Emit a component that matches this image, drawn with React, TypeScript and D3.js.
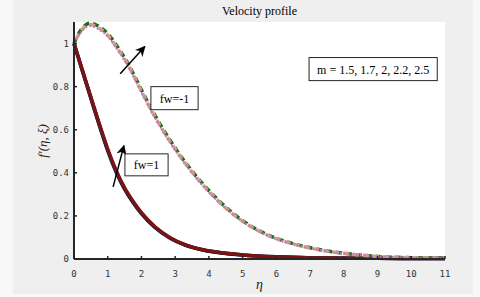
import React from "react";
import * as d3 from "d3";

const xTicks = [0, 1, 2, 3, 4, 5, 6, 7, 8, 9, 10, 11];
const yTicks = [0, 0.2, 0.4, 0.6, 0.8, 1];
const yTickLabels = ["0", "0.2", "0.4", "0.6", "0.8", "1"];

const etaSolid = [0, 0.25, 0.5, 0.75, 1, 1.25, 1.5, 1.75, 2, 2.4, 2.85, 3.3, 3.83, 4.4, 5, 6, 7, 8, 9, 10, 11];
const solidBlue = [1, 0.872, 0.745, 0.62, 0.502, 0.403, 0.324, 0.262, 0.21, 0.146, 0.096, 0.064, 0.042, 0.028, 0.018, 0.01, 0.006, 0.004, 0.003, 0.002, 0.002];
const solidBlack = [1, 0.874, 0.749, 0.624, 0.506, 0.407, 0.327, 0.265, 0.212, 0.148, 0.098, 0.065, 0.042, 0.028, 0.019, 0.01, 0.006, 0.004, 0.003, 0.002, 0.002];
const solidRed = [1, 0.876, 0.752, 0.628, 0.51, 0.41, 0.33, 0.268, 0.215, 0.15, 0.099, 0.066, 0.043, 0.029, 0.019, 0.01, 0.006, 0.004, 0.003, 0.002, 0.002];

const etaDash = [0, 0.15, 0.3, 0.47, 0.65, 0.85, 1.05, 1.3, 1.57, 1.9, 2.26, 2.55, 2.85, 3.2, 3.53, 3.9, 4.24, 4.69, 5.2, 5.9, 6.6, 7.3, 8.2, 9, 10, 11];
const dashGreen = [1, 1.05, 1.08, 1.094, 1.087, 1.067, 1.037, 0.982, 0.916, 0.816, 0.706, 0.626, 0.551, 0.47, 0.402, 0.334, 0.279, 0.215, 0.157, 0.102, 0.067, 0.043, 0.023, 0.012, 0.006, 0.003];
const dashTan = [1, 1.045, 1.075, 1.088, 1.08, 1.06, 1.03, 0.975, 0.91, 0.81, 0.7, 0.62, 0.545, 0.465, 0.398, 0.33, 0.275, 0.212, 0.155, 0.1, 0.066, 0.042, 0.023, 0.012, 0.006, 0.003];
const dashPink = [1, 1.04, 1.07, 1.082, 1.074, 1.054, 1.024, 0.969, 0.904, 0.805, 0.695, 0.615, 0.54, 0.461, 0.394, 0.327, 0.272, 0.21, 0.153, 0.099, 0.065, 0.041, 0.022, 0.012, 0.006, 0.003];

const W = 480, H = 297;
const x = d3.scaleLinear().domain([0, 11]).range([74, 445]);
const y = d3.scaleLinear().domain([0, 1.1]).range([259, 22]);

function path(xs: number[], ys: number[]) {
  const g = d3.line<number>().x((_, i) => x(xs[i])).y((d) => y(d)).curve(d3.curveMonotoneX);
  return g(ys) || "";
}

function Box({ x0, x1, y0, y1, text }: { x0: number; x1: number; y0: number; y1: number; text: string }) {
  const px0 = x(x0), px1 = x(x1), py0 = y(y0), py1 = y(y1);
  return (
    <g>
      <rect x={px0} y={py0} width={px1 - px0} height={py1 - py0} fill="#fff" stroke="#262626" strokeWidth={1} />
      <text x={(px0 + px1) / 2} y={(py0 + py1) / 2 + 4.5} textAnchor="middle" fontFamily="Liberation Serif" fontSize={12} fill="#000">{text}</text>
    </g>
  );
}

export default function App() {
  const arrows = [
    { x0: 1.37, y0: 0.86, x1: 2.1, y1: 0.986 },
    { x0: 1.16, y0: 0.335, x1: 1.48, y1: 0.526 },
  ];
  return (
    <svg width={W} height={H} style={{ position: "absolute", left: 0, top: 0 }}>
      <defs>
        <marker id="ah" viewBox="0 0 10 10" refX="9" refY="5" markerWidth="7" markerHeight="7" orient="auto">
          <path d="M0,0 L10,5 L0,10 L3,5 z" fill="#000" />
        </marker>
      </defs>
      <rect x={0} y={0} width={W} height={H} fill="#f8f8f8" />
      <rect x={13} y={0} width={460} height={294} fill="#efefef" />
      <rect x={x(0)} y={y(1.1)} width={x(11) - x(0)} height={y(0) - y(1.1)} fill="#fff" />
      <text x={(x(0) + x(11)) / 2} y={15} textAnchor="middle" fontFamily="Liberation Serif" fontSize={12} fill="#000">Velocity profile</text>

      {/* solid fw=1 */}
      <path d={path(etaSolid, solidBlue)} fill="none" stroke="#1f3fbf" strokeWidth={3.5} />
      <path d={path(etaSolid, solidBlack)} fill="none" stroke="#111" strokeWidth={3.5} />
      <path d={path(etaSolid, solidRed)} fill="none" stroke="#7a1414" strokeWidth={3.5} />

      {/* dashed fw=-1 */}
      <path d={path(etaDash, dashGreen)} fill="none" stroke="#1c6a1c" strokeWidth={3.5} strokeDasharray="6,4" />
      <path d={path(etaDash, dashTan)} fill="none" stroke="#d6a07c" strokeWidth={3.5} strokeDasharray="6,4" strokeDashoffset={5} />
      <path d={path(etaDash, dashPink)} fill="none" stroke="#c27ac6" strokeWidth={2.2} strokeDasharray="2,2" />

      {/* axes */}
      <line x1={x(0)} x2={x(0)} y1={y(1.1)} y2={y(0)} stroke="#262626" strokeWidth={2} />
      <line x1={x(0)} x2={x(11)} y1={y(0)} y2={y(0)} stroke="#262626" strokeWidth={2} />
      {xTicks.map((t) => (
        <g key={"x" + t}>
          <line x1={x(t)} x2={x(t)} y1={y(0)} y2={y(0) - 3} stroke="#262626" strokeWidth={1.5} />
          <text x={x(t)} y={277} textAnchor="middle" fontFamily="DejaVu Sans Mono" fontSize={9} fill="#333">{t}</text>
        </g>
      ))}
      {yTicks.map((t, i) => (
        <g key={"y" + t}>
          <line x1={x(0)} x2={x(0) + 3} y1={y(t)} y2={y(t)} stroke="#262626" strokeWidth={1.5} />
          <text x={69} y={y(t) + 3} textAnchor="end" fontFamily="DejaVu Sans Mono" fontSize={9} fill="#333">{yTickLabels[i]}</text>
        </g>
      ))}
      <text x={(x(0) + x(11)) / 2} y={289} textAnchor="middle" fontFamily="Liberation Serif" fontStyle="italic" fontSize={14} fill="#222">η</text>
      <text transform={`translate(47,141) rotate(-90)`} textAnchor="middle" fontFamily="Liberation Serif" fontStyle="italic" fontSize={13} fill="#222">f′(η, ξ)</text>

      {arrows.map((a, i) => (
        <line key={i} x1={x(a.x0)} y1={y(a.y0)} x2={x(a.x1)} y2={y(a.y1)} stroke="#000" strokeWidth={1.5} markerEnd="url(#ah)" />
      ))}

      <Box x0={2.28} x1={3.68} y0={0.8} y1={0.693} text="fw=-1" />
      <Box x0={1.51} x1={2.79} y0={0.488} y1={0.386} text="fw=1" />
      <Box x0={6.97} x1={10.77} y0={0.935} y1={0.828} text="m = 1.5, 1.7, 2, 2.2, 2.5" />
    </svg>
  );
}
